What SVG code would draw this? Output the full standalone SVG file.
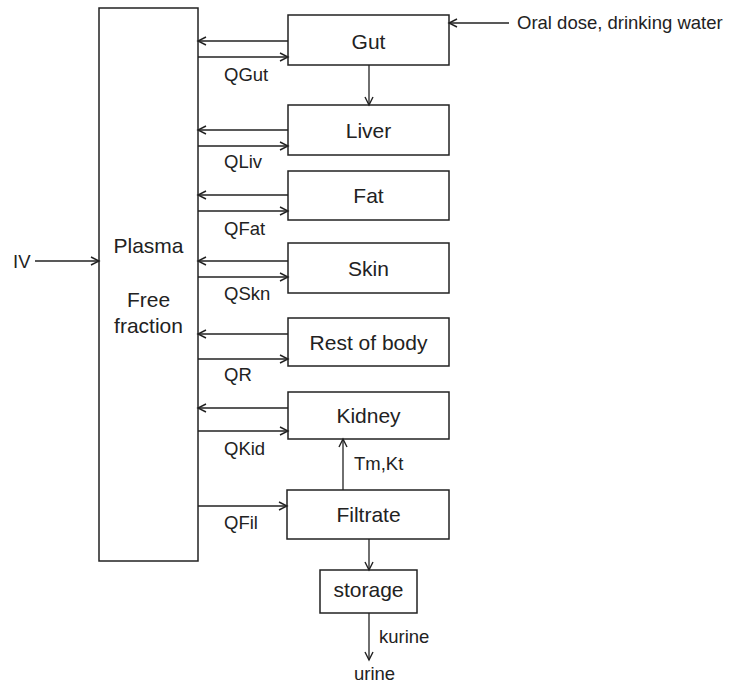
<svg xmlns="http://www.w3.org/2000/svg" width="729" height="685" viewBox="0 0 729 685">
<defs>
<style>
.box{fill:#fff;stroke:#222;stroke-width:1.5}
.ln{fill:none;stroke:#222;stroke-width:1.3;marker-end:url(#ah)}
.bl{font-family:"Liberation Sans",Arial,sans-serif;font-size:21px;fill:#222;text-anchor:middle}
.sl{font-family:"Liberation Sans",Arial,sans-serif;font-size:18.5px;fill:#222}
</style>
<marker id="ah" markerUnits="userSpaceOnUse" markerWidth="12" markerHeight="12" refX="9" refY="5" orient="auto">
<path d="M1,1 L9,5 L1,9" fill="none" stroke="#222" stroke-width="1.4"/>
</marker>
</defs>
<rect width="729" height="685" fill="#fff"/>
<g id="plasma"><rect class="box" x="99" y="8" width="99" height="553"/><text class="bl" x="148.5" y="253">Plasma</text><text class="bl" x="148.5" y="307">Free</text><text class="bl" x="148.5" y="333">fraction</text></g>
<g id="gut"><rect class="box" x="288" y="15" width="161" height="50"/><text class="bl" x="368.5" y="48.5">Gut</text></g>
<g id="liver"><rect class="box" x="288" y="105" width="161" height="50"/><text class="bl" x="368.5" y="138">Liver</text></g>
<g id="fat"><rect class="box" x="288" y="171" width="161" height="49"/><text class="bl" x="368.5" y="203">Fat</text></g>
<g id="skin"><rect class="box" x="288" y="243" width="161" height="50"/><text class="bl" x="368.5" y="276">Skin</text></g>
<g id="rest"><rect class="box" x="288" y="318" width="161" height="48"/><text class="bl" x="368.5" y="350">Rest of body</text></g>
<g id="kidney"><rect class="box" x="288" y="392" width="161" height="47"/><text class="bl" x="368.5" y="423">Kidney</text></g>
<g id="filtrate"><rect class="box" x="287" y="490" width="162" height="49"/><text class="bl" x="368.5" y="522">Filtrate</text></g>
<g id="storage"><rect class="box" x="320" y="570" width="97" height="43"/><text class="bl" x="368.5" y="597">storage</text></g>
<g id="connectors">
<line class="ln" x1="288" y1="41" x2="198" y2="41"/>
<line class="ln" x1="198" y1="57" x2="288" y2="57"/>
<line class="ln" x1="288" y1="130" x2="198" y2="130"/>
<line class="ln" x1="198" y1="146" x2="288" y2="146"/>
<line class="ln" x1="288" y1="195" x2="198" y2="195"/>
<line class="ln" x1="198" y1="211" x2="288" y2="211"/>
<line class="ln" x1="288" y1="261" x2="198" y2="261"/>
<line class="ln" x1="198" y1="277" x2="288" y2="277"/>
<line class="ln" x1="288" y1="334" x2="198" y2="334"/>
<line class="ln" x1="198" y1="359" x2="288" y2="359"/>
<line class="ln" x1="288" y1="408" x2="198" y2="408"/>
<line class="ln" x1="198" y1="431" x2="288" y2="431"/>
<line class="ln" x1="198" y1="506" x2="287" y2="506"/>
<line class="ln" x1="369" y1="65" x2="369" y2="105"/>
<line class="ln" x1="343" y1="490" x2="343" y2="439"/>
<line class="ln" x1="369" y1="539" x2="369" y2="570"/>
<line class="ln" x1="369" y1="613" x2="369" y2="660"/>
<line class="ln" x1="35" y1="261" x2="99" y2="261"/>
<line class="ln" x1="509" y1="23" x2="449" y2="23"/>
<text class="sl" x="224" y="81">QGut</text>
<text class="sl" x="224" y="168">QLiv</text>
<text class="sl" x="224" y="235">QFat</text>
<text class="sl" x="224" y="300">QSkn</text>
<text class="sl" x="224" y="381">QR</text>
<text class="sl" x="224" y="455">QKid</text>
<text class="sl" x="224" y="529">QFil</text>
<text class="sl" x="354" y="470">Tm,Kt</text>
<text class="sl" x="379" y="643">kurine</text>
<text class="sl" x="354" y="680">urine</text>
<text class="sl" x="13" y="268">IV</text>
<text class="sl" x="517" y="29">Oral dose, drinking water</text>
</g>
</svg>
